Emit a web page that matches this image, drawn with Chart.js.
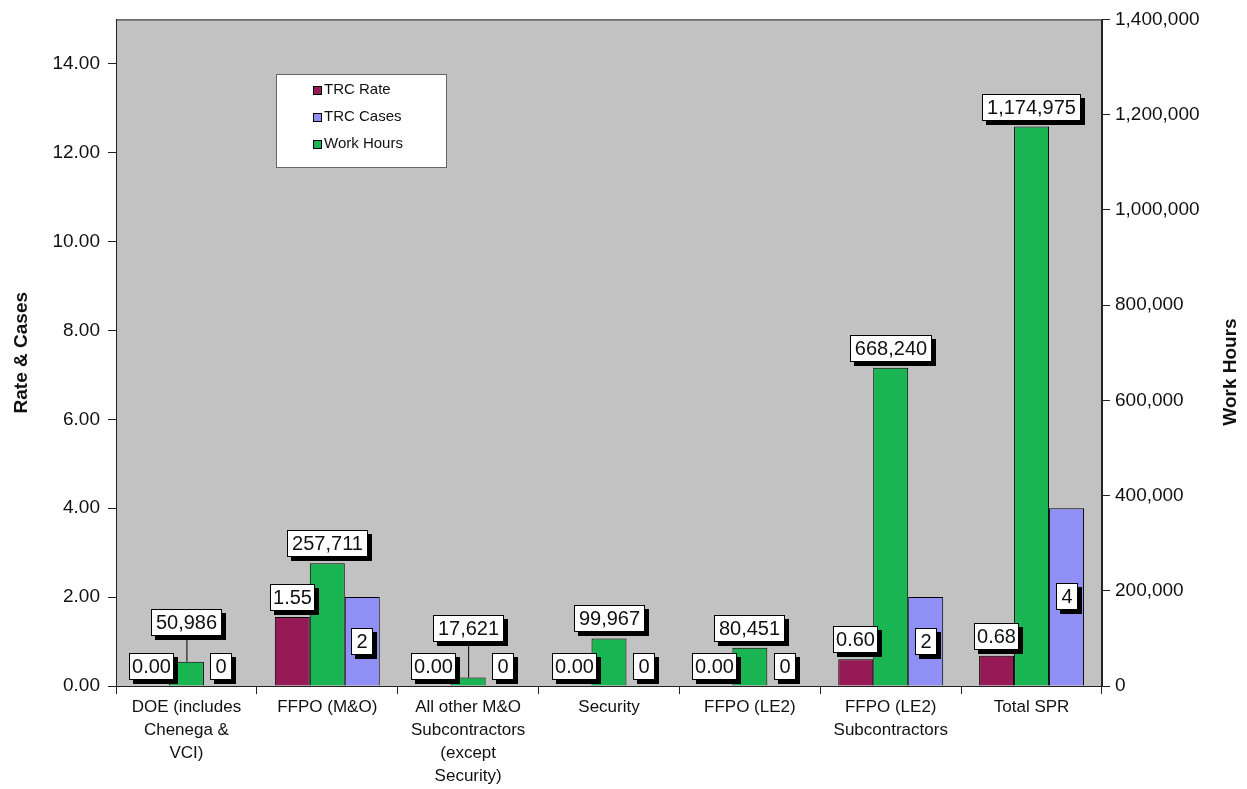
<!DOCTYPE html>
<html>
<head>
<meta charset="utf-8">
<title>TRC Rate, Cases and Work Hours</title>
<script src="https://cdn.jsdelivr.net/npm/chart.js@4.4.1/dist/chart.umd.min.js"></script>
<style>
  html, body { margin: 0; padding: 0; background: #fff; }
  #wrap { width: 1247px; height: 789px; }
</style>
</head>
<body>
<div id="wrap"><canvas id="c" width="1247" height="789"></canvas></div>
<script>
// data
var categories = [
  ['DOE (includes', 'Chenega &', 'VCI)'],
  ['FFPO (M&O)'],
  ['All other M&O', 'Subcontractors', '(except', 'Security)'],
  ['Security'],
  ['FFPO (LE2)'],
  ['FFPO (LE2)', 'Subcontractors'],
  ['Total SPR']
];
var trcRate   = [0.00, 1.55, 0.00, 0.00, 0.00, 0.60, 0.68];
var trcCases  = [0, 2, 0, 0, 0, 2, 4];
var workHours = [50986, 257711, 17621, 99967, 80451, 668240, 1174975];
var legendOrder = ['TRC Rate', 'TRC Cases', 'Work Hours'];

var FONT = '"Liberation Sans", Arial, sans-serif';
var COL = { rate: '#961a56', cases: '#8f8ff5', hours: '#19b552', plot: '#c2c2c2' };

function fmtRate(v) { return v.toFixed(2); }
function fmtInt(v) { return Number(v).toLocaleString('en-US'); }

/* gray plot area + frame */
var plotBg = {
  id: 'plotBg',
  beforeDraw: function (chart) {
    var a = chart.chartArea, ctx = chart.ctx;
    ctx.save();
    ctx.fillStyle = COL.plot;
    ctx.fillRect(a.left, a.top, a.right - a.left, a.bottom - a.top);
    ctx.strokeStyle = '#222'; ctx.lineWidth = 1;
    ctx.strokeRect(a.left + 0.5, a.top + 0.5, a.right - a.left - 1, a.bottom - a.top);
    ctx.restore();
  }
};

/* boxed value labels with drop shadow */
var hoursLift = { 0: 20, 2: 30 };
var boxLabels = {
  id: 'boxLabels',
  afterDatasetsDraw: function (chart) {
    var ctx = chart.ctx;
    ctx.save();
    ctx.font = '20px ' + FONT;
    ctx.textAlign = 'center'; ctx.textBaseline = 'middle';
    chart.data.datasets.forEach(function (ds, di) {
      var meta = chart.getDatasetMeta(di);
      meta.data.forEach(function (bar, i) {
        var v = ds.data[i];
        var txt = ds.label === 'TRC Rate' ? fmtRate(v) : fmtInt(v);
        var tw = ctx.measureText(txt).width;
        var w = Math.max(22, Math.round(tw) + (txt.length > 4 ? 10 : 6)), h = 27;
        var lift = ds.label === 'Work Hours' ? (hoursLift[i] || 0) : 0;
        var cy;
        if (ds.label === 'TRC Cases' && v > 0) cy = (bar.y + bar.base) / 2;
        else cy = bar.y - 6 - h / 2 - lift;
        var x = Math.round(bar.x - w / 2), y = Math.round(cy - h / 2);
        if (lift) {
          ctx.strokeStyle = '#000'; ctx.lineWidth = 1;
          ctx.beginPath(); ctx.moveTo(bar.x + 0.5, y + h); ctx.lineTo(bar.x + 0.5, bar.y); ctx.stroke();
        }
        ctx.fillStyle = '#000';
        ctx.fillRect(x + 4, y + 4, w, h);
        ctx.fillStyle = '#fff';
        ctx.fillRect(x, y, w, h);
        ctx.strokeStyle = '#000'; ctx.lineWidth = 1;
        ctx.strokeRect(x + 0.5, y + 0.5, w - 1, h - 1);
        ctx.fillStyle = '#111';
        ctx.fillText(txt, x + w / 2, y + h / 2 + 1);
      });
    });
    ctx.restore();
  }
};

/* legend box inside the plot + right axis title */
var extras = {
  id: 'extras',
  afterDraw: function (chart) {
    var ctx = chart.ctx;
    ctx.save();
    ctx.fillStyle = '#fff';
    ctx.fillRect(276, 74, 171, 94);
    ctx.strokeStyle = '#666'; ctx.lineWidth = 1;
    ctx.strokeRect(276.5, 74.5, 170, 93);
    ctx.font = '15px ' + FONT;
    ctx.textAlign = 'left'; ctx.textBaseline = 'middle';
    legendOrder.forEach(function (name, k) {
      var ds = chart.data.datasets.filter(function (d) { return d.label === name; })[0];
      var yy = 90 + k * 27;
      ctx.fillStyle = ds.backgroundColor;
      ctx.fillRect(313, yy - 4, 9, 9);
      ctx.strokeStyle = '#000';
      ctx.strokeRect(313.5, yy - 3.5, 8, 8);
      ctx.fillStyle = '#111';
      ctx.fillText(name, 324, yy);
    });
    ctx.translate(1231, 372);
    ctx.rotate(-Math.PI / 2);
    ctx.textAlign = 'center';
    ctx.font = 'bold 19px ' + FONT;
    ctx.fillText('Work Hours', 0, 0);
    ctx.restore();
  }
};

new Chart(document.getElementById('c'), {
  type: 'bar',
  data: {
    labels: categories,
    datasets: [
      { label: 'TRC Rate', data: trcRate, yAxisID: 'y', backgroundColor: COL.rate },
      { label: 'Work Hours', data: workHours, yAxisID: 'y2', backgroundColor: COL.hours },
      { label: 'TRC Cases', data: trcCases, yAxisID: 'y', backgroundColor: COL.cases }
    ].map(function (d) {
      return Object.assign({ borderColor: '#000', borderWidth: 1, barPercentage: 1, categoryPercentage: 0.745 }, d);
    })
  },
  options: {
    responsive: false,
    animation: false,
    layout: { padding: { top: 17, left: 0, right: 0, bottom: 0 } },
    plugins: { legend: { display: false }, tooltip: { enabled: false } },
    scales: {
      x: {
        grid: { display: true, drawOnChartArea: false, drawTicks: true, tickLength: 8, color: '#222', offset: true },
        border: { display: true, color: '#222' },
        ticks: { color: '#111', font: { family: FONT, size: 17, lineHeight: 1.35 }, maxRotation: 0, autoSkip: false, padding: 2 },
        afterFit: function (s) { s.height = 103; }
      },
      y: {
        position: 'left', min: 0, max: 15,
        grid: { display: true, drawOnChartArea: false, tickLength: 8, color: '#222' },
        border: { display: true, color: '#222' },
        ticks: { stepSize: 2, includeBounds: false, color: '#111', padding: 8,
          font: { family: FONT, size: 19 }, callback: function (v) { return v.toFixed(2); } },
        title: { display: true, text: 'Rate & Cases', color: '#111', font: { family: FONT, size: 19, weight: 'bold' }, padding: { top: 10 } },
        afterFit: function (s) { s.width = 116; }
      },
      y2: {
        position: 'right', min: 0, max: 1400000,
        grid: { display: true, drawOnChartArea: false, tickLength: 8, color: '#222' },
        border: { display: true, color: '#222' },
        ticks: { stepSize: 200000, color: '#111', padding: 5,
          font: { family: FONT, size: 19 }, callback: function (v) { return fmtInt(v); } },
        afterFit: function (s) { s.width = 145; }
      }
    }
  },
  plugins: [plotBg, boxLabels, extras]
});
</script>
</body>
</html>
